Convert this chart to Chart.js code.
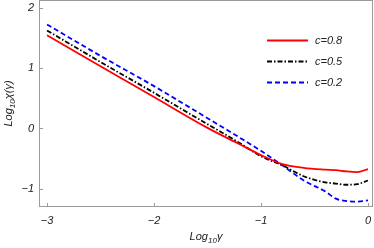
<!DOCTYPE html>
<html>
<head>
<meta charset="utf-8">
<script src="https://cdn.jsdelivr.net/npm/chart.js@4/dist/chart.umd.min.js"></script>
<style>
  html, body { margin: 0; padding: 0; background: #fff; }
  #wrap { width: 374px; height: 248px; }
</style>
</head>
<body>
<div id="wrap"><canvas id="grafico"></canvas></div>
<script>
// data (log10 gamma vs log10 chi)
const logGamma = [-3, -2.5, -2, -1.5, -1.2, -1, -0.8, -0.6, -0.4, -0.3, -0.2, -0.1, 0];
const chiC08 = [1.54, 1.03, 0.52, 0.01, -0.26, -0.44, -0.59, -0.65, -0.68, -0.69, -0.71, -0.72, -0.67];
const chiC05 = [1.62, 1.10, 0.59, 0.07, -0.24, -0.46, -0.61, -0.79, -0.89, -0.91, -0.93, -0.92, -0.86];
const chiC02 = [1.72, 1.20, 0.70, 0.17, -0.15, -0.37, -0.61, -0.86, -1.04, -1.16, -1.20, -1.21, -1.19];
const seriesLabels = ["c=0.8", "c=0.5", "c=0.2"];
const xTicks = [-3, -2, -1, 0];
const yTicks = [-1, 0, 1, 2];

const FONT = "'Liberation Sans', Arial, sans-serif";
const FRAME = "#9a9a9a";

function toPoints(ys) {
  return logGamma.map((x, i) => ({ x: x, y: ys[i] }));
}

function minus(v) {
  return String(v).replace("-", "\u2212");
}

// frame, inward ticks, axis titles and legend
const framePlugin = {
  id: "frame",
  afterDraw(chart) {
    const ctx = chart.ctx;
    const a = chart.chartArea;
    const sx = chart.scales.x;
    const sy = chart.scales.y;
    ctx.save();
    ctx.strokeStyle = FRAME;
    ctx.lineWidth = 1;
    ctx.strokeRect(a.left + 0.5, a.top + 0.5, a.right - a.left - 1, a.bottom - a.top - 1);
    ctx.beginPath();
    xTicks.forEach((t) => {
      const px = Math.round(sx.getPixelForValue(t)) + 0.5;
      ctx.moveTo(px, a.bottom);
      ctx.lineTo(px, a.bottom - 4);
    });
    yTicks.forEach((t) => {
      const py = Math.round(sy.getPixelForValue(t)) + 0.5;
      ctx.moveTo(a.left, py);
      ctx.lineTo(a.left + 4, py);
    });
    ctx.stroke();

    // axis titles with subscript
    ctx.fillStyle = "#222";
    ctx.textBaseline = "alphabetic";
    function drawLabel(parts, cx, cy) {
      let w = 0;
      parts.forEach((p) => {
        ctx.font = "italic " + (p.sub ? 8 : 11) + "px " + FONT;
        p.w = ctx.measureText(p.t).width;
        w += p.w;
      });
      let x = cx - w / 2;
      parts.forEach((p) => {
        ctx.font = "italic " + (p.sub ? 8 : 11) + "px " + FONT;
        ctx.fillText(p.t, x, cy + (p.sub ? 3 : 0));
        x += p.w;
      });
    }
    drawLabel([{ t: "Log" }, { t: "10", sub: true }, { t: "\u03b3" }], (a.left + a.right) / 2, 240);
    ctx.save();
    ctx.translate(12, (a.top + a.bottom) / 2);
    ctx.rotate(-Math.PI / 2);
    drawLabel([{ t: "Log" }, { t: "10", sub: true }, { t: "\u03c7(\u03b3)" }], 0, 0);
    ctx.restore();

    // legend
    chart.data.datasets.forEach((ds, i) => {
      const y = 40.5 + i * 21;
      ctx.beginPath();
      ctx.strokeStyle = ds.borderColor;
      ctx.lineWidth = ds.borderWidth;
      ctx.setLineDash(ds.borderDash || []);
      ctx.moveTo(267, y);
      ctx.lineTo(308, y);
      ctx.stroke();
      ctx.setLineDash([]);
      ctx.font = "italic 11px " + FONT;
      ctx.fillStyle = "#222";
      ctx.textBaseline = "middle";
      ctx.fillText(ds.label, 315, y);
    });
    ctx.restore();
  },
};

new Chart(document.getElementById("grafico"), {
  type: "line",
  data: {
    datasets: [
      {
        label: seriesLabels[0],
        data: toPoints(chiC08),
        borderColor: "#ff0000",
        borderWidth: 1.8,
      },
      {
        label: seriesLabels[1],
        data: toPoints(chiC05),
        borderColor: "#000000",
        borderWidth: 1.8,
        borderDash: [5, 2, 1.5, 2],
      },
      {
        label: seriesLabels[2],
        data: toPoints(chiC02),
        borderColor: "#0000ff",
        borderWidth: 1.8,
        borderDash: [5, 3],
      },
    ],
  },
  options: {
    responsive: true,
    maintainAspectRatio: false,
    animation: false,
    layout: { padding: { top: 0, right: 1, left: 0, bottom: 0 } },
    elements: {
      point: { radius: 0 },
      line: { cubicInterpolationMode: "monotone" },
    },
    plugins: {
      legend: { display: false },
      tooltip: { enabled: false },
    },
    scales: {
      x: {
        type: "linear",
        min: -3.075,
        max: 0.047,
        afterFit: (s) => {
          s.height = 41;
          s.paddingLeft = 0;
          s.paddingRight = 0;
        },
        afterBuildTicks: (s) => { s.ticks = xTicks.map((v) => ({ value: v })); },
        grid: { display: false, drawTicks: false },
        border: { display: false },
        ticks: {
          padding: 7,
          color: "#222",
          font: { family: FONT, size: 11, style: "italic" },
          callback: (v) => minus(v),
        },
      },
      y: {
        type: "linear",
        min: -1.298,
        max: 2.124,
        afterFit: (s) => {
          s.width = 39;
          s.paddingTop = 0;
          s.paddingBottom = 0;
        },
        afterBuildTicks: (s) => { s.ticks = yTicks.map((v) => ({ value: v })); },
        grid: { display: false, drawTicks: false },
        border: { display: false },
        ticks: {
          padding: 5,
          color: "#222",
          font: { family: FONT, size: 11, style: "italic" },
          callback: (v) => minus(v),
        },
      },
    },
  },
  plugins: [framePlugin],
});
</script>
</body>
</html>
